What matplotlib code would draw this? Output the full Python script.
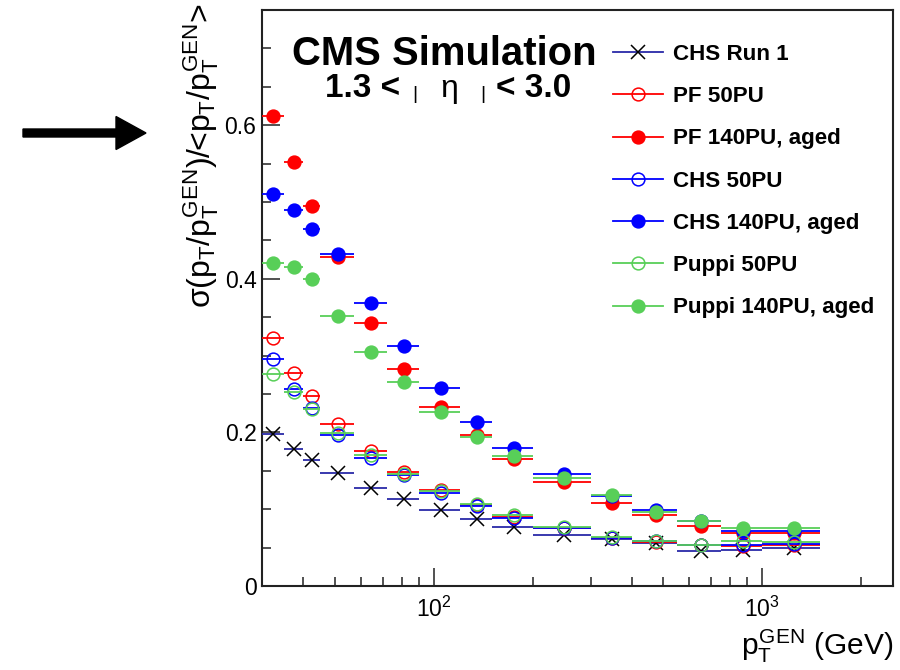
import numpy as np
import matplotlib
matplotlib.use('Agg')
import matplotlib.pyplot as plt
import matplotlib.transforms as mtransforms
from matplotlib.patches import FancyArrow
from matplotlib.lines import Line2D
from matplotlib.ticker import MultipleLocator, LogLocator, NullFormatter, FuncFormatter

plt.rcParams['font.family'] = ['Liberation Sans', 'DejaVu Sans']
plt.rcParams['mathtext.fontset'] = 'custom'
plt.rcParams['mathtext.rm'] = 'Liberation Sans'
plt.rcParams['mathtext.it'] = 'Liberation Sans'
plt.rcParams['mathtext.bf'] = 'Liberation Sans:bold'

# bin edges in pT (GeV)
bin_edges = [30, 35, 40, 45, 57, 72, 90, 120, 150, 200, 300, 400, 550, 750, 1000, 1500]

# resolution values per bin
chs_run1 = [0.198, 0.178, 0.164, 0.147, 0.128, 0.113, 0.099, 0.087, 0.077, 0.067, 0.061, 0.056, 0.046, 0.047, 0.049]
pf_50 = [0.323, 0.277, 0.247, 0.211, 0.176, 0.148, 0.125, 0.105, 0.090, 0.075, 0.062, 0.057, 0.053, 0.052, 0.053]
pf_140 = [0.612, 0.552, 0.495, 0.429, 0.342, 0.283, 0.233, 0.196, 0.166, 0.136, 0.108, 0.093, 0.078, 0.069, 0.069]
chs_50 = [0.295, 0.256, 0.232, 0.197, 0.167, 0.144, 0.121, 0.104, 0.089, 0.075, 0.063, 0.058, 0.054, 0.054, 0.055]
chs_140 = [0.510, 0.490, 0.465, 0.432, 0.368, 0.313, 0.258, 0.213, 0.180, 0.146, 0.117, 0.099, 0.084, 0.071, 0.071]
puppi_50 = [0.276, 0.253, 0.230, 0.199, 0.171, 0.146, 0.124, 0.107, 0.092, 0.077, 0.064, 0.059, 0.054, 0.058, 0.057]
puppi_140 = [0.421, 0.415, 0.400, 0.352, 0.305, 0.266, 0.227, 0.194, 0.169, 0.140, 0.118, 0.097, 0.084, 0.075, 0.076]

labels = ['CHS Run 1', 'PF 50PU', 'PF 140PU, aged', 'CHS 50PU',
          'CHS 140PU, aged', 'Puppi 50PU', 'Puppi 140PU, aged']

red = '#ff0000'
blue = '#0000ff'
green = '#58cf58'
navy = '#2a2aa8'

edges = np.array(bin_edges, dtype=float)
lo = edges[:-1]
hi = edges[1:]
x = 0.5 * (lo + hi)
xerr = [x - lo, hi - x]

fig = plt.figure(figsize=(9, 6.7), dpi=100)
ax = fig.add_axes([262 / 900, 1 - 586 / 670, (893 - 262) / 900, (586 - 10) / 670])

series = [
    (chs_run1, 'x', navy, 'k', 'k'),
    (pf_50, 'o', red, 'none', red),
    (pf_140, 'o', red, red, red),
    (chs_50, 'o', blue, 'none', blue),
    (chs_140, 'o', blue, blue, blue),
    (puppi_50, 'o', green, 'none', green),
    (puppi_140, 'o', green, green, green),
]

handles = []
for i, (vals, mk, lc, fc, ec) in enumerate(series):
    ms = 9.5 if mk == 'x' else 9.2
    ax.errorbar(x, vals, xerr=xerr, fmt=mk, color=lc, ecolor=lc, elinewidth=1.3,
                mfc=fc, mec=ec, ms=ms, mew=1.1, capsize=0, zorder=3 + i)
    handles.append(Line2D([], [], color=lc, lw=1.3, marker=mk, mfc=fc, mec=ec,
                          ms=ms, mew=1.1))

ax.set_xscale('log')
ax.set_xlim(30, 2500)
ax.set_ylim(0, 0.75)

ax.yaxis.set_major_locator(MultipleLocator(0.2))
ax.yaxis.set_minor_locator(MultipleLocator(0.05))
ax.yaxis.set_major_formatter(FuncFormatter(lambda v, p: '0' if abs(v) < 1e-9 else f'{v:g}'))
ax.xaxis.set_major_locator(LogLocator(base=10))
ax.xaxis.set_minor_locator(LogLocator(base=10, subs=np.arange(2, 10)))
ax.xaxis.set_minor_formatter(NullFormatter())

ax.tick_params(which='both', direction='in', top=False, right=False, width=1.1,
               labelsize=16.5, color='#222222')
ax.tick_params(which='major', length=13)
ax.tick_params(which='minor', length=6.5)
ax.tick_params(axis='x', pad=8)
ax.tick_params(axis='y', pad=4)
for sp in ax.spines.values():
    sp.set_linewidth(1.5)
    sp.set_color('#222222')

# axis titles (ROOT style, aligned to axis ends)
fig.text(201 / 900, 1 - 3 / 670, r'σ($p_{T}$/$p_{T}^{GEN}$)/<$p_{T}$/$p_{T}^{GEN}$>',
         rotation=90, ha='center', va='top', fontsize=23)
fig.text(893 / 900, 1 - 655 / 670, r'$p_{T}^{GEN}$ (GeV)', ha='right', va='baseline', fontsize=21.5)

# CMS label
fig.text(444 / 900, 1 - 65 / 670, 'CMS Simulation', ha='center', va='baseline',
         fontsize=28.8, fontweight='bold')
fig.text(400 / 900, 1 - 97 / 670, '1.3 <', ha='right', va='baseline', fontsize=24, fontweight='bold')
fig.text(415 / 900, 1 - 99 / 670, '|', ha='center', va='baseline', fontsize=14)
fig.text(449 / 900, 1 - 97 / 670, '\u03b7', ha='center', va='baseline', fontsize=23)
fig.text(483 / 900, 1 - 99 / 670, '|', ha='center', va='baseline', fontsize=14)
fig.text(496 / 900, 1 - 97 / 670, '< 3.0', ha='left', va='baseline', fontsize=24, fontweight='bold')

leg = ax.legend(handles, labels, loc='upper left', bbox_to_anchor=(613 / 900, 1 - 44 / 670),
                bbox_transform=fig.transFigure, frameon=False, handlelength=2.25,
                handletextpad=0.45, labelspacing=0.95, borderpad=0, borderaxespad=0,
                prop={'weight': 'bold', 'size': 16.1})

# arrow on the left
arrow = FancyArrow(23, 670 - 133, 123, 0, width=8, head_width=33, head_length=30,
                   length_includes_head=True, color='k', transform=mtransforms.IdentityTransform())
fig.patches.append(arrow)

fig.savefig('out.png', dpi=100)
